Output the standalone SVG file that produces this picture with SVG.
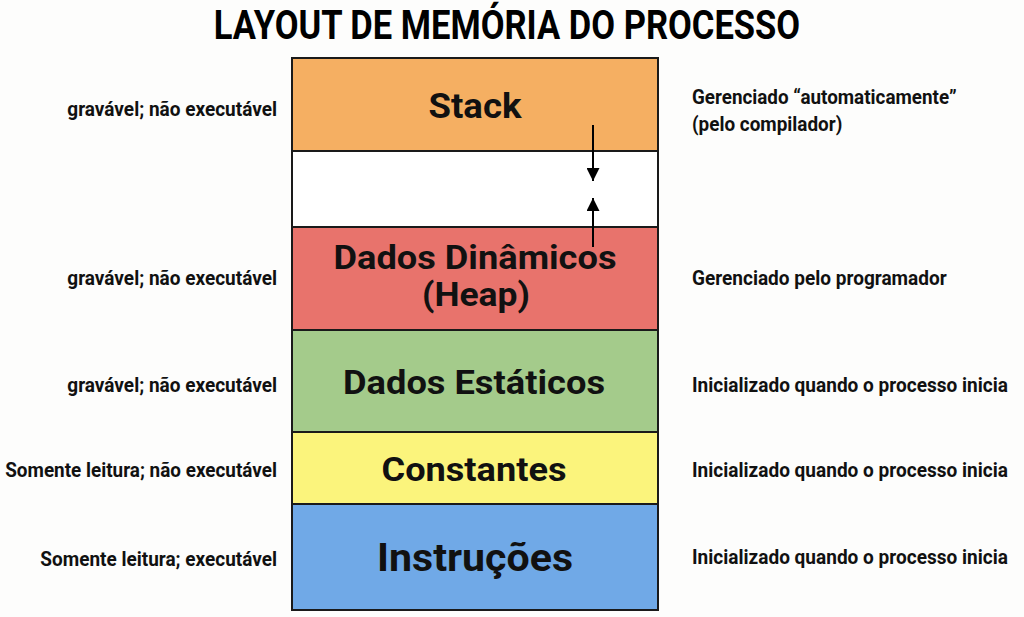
<svg xmlns="http://www.w3.org/2000/svg" width="1024" height="617" viewBox="0 0 1024 617">
<defs>
<style>
.seg{stroke:#1a1a1a;stroke-width:2}
.lbl{font-family:Roboto,"Liberation Sans",sans-serif;font-weight:700;fill:#111;text-anchor:middle}
.side{font-family:Roboto,"Liberation Sans",sans-serif;font-weight:700;fill:#111;font-size:21px}
.l{text-anchor:end}
.title{font-family:Roboto,"Liberation Sans",sans-serif;font-weight:700;fill:#000;font-size:41px;text-anchor:middle}
.arr{stroke:#000;stroke-width:2;fill:none}
</style>
<marker id="ah" viewBox="0 0 10 10" refX="10" refY="5" markerWidth="13" markerHeight="13" markerUnits="userSpaceOnUse" orient="auto">
<path d="M0,0 L10,5 L0,10 z" fill="#000"/>
</marker>
</defs>
<rect width="1024" height="617" fill="#fdfdfc"/>
<text class="title" transform="translate(507,39) scale(0.84,1)" x="0" y="0" textLength="698" lengthAdjust="spacingAndGlyphs">LAYOUT DE MEMÓRIA DO PROCESSO</text>

<g id="stack">
<rect class="seg" x="292" y="58" width="366" height="93" fill="#F5AF62"/>
<text class="lbl" x="475" y="118" font-size="35" textLength="93" lengthAdjust="spacingAndGlyphs">Stack</text>
</g>
<g id="free">
<rect class="seg" x="292" y="151" width="366" height="76" fill="#ffffff"/>
</g>
<g id="heap">
<rect class="seg" x="292" y="227" width="366" height="103" fill="#E8736C"/>
<text class="lbl" x="475" y="269" font-size="34" textLength="283" lengthAdjust="spacingAndGlyphs">Dados Dinâmicos</text>
<text class="lbl" x="476" y="306" font-size="34" textLength="108" lengthAdjust="spacingAndGlyphs">(Heap)</text>
</g>
<g id="static">
<rect class="seg" x="292" y="330" width="366" height="102" fill="#A4CB8B"/>
<text class="lbl" x="474" y="394" font-size="34" textLength="262" lengthAdjust="spacingAndGlyphs">Dados Estáticos</text>
</g>
<g id="const">
<rect class="seg" x="292" y="432" width="366" height="72" fill="#FBF47C"/>
<text class="lbl" x="474" y="481" font-size="34" textLength="185" lengthAdjust="spacingAndGlyphs">Constantes</text>
</g>
<g id="instr">
<rect class="seg" x="292" y="504" width="366" height="106" fill="#70A9E7"/>
<text class="lbl" x="475" y="571" font-size="38" textLength="196" lengthAdjust="spacingAndGlyphs">Instruções</text>
</g>

<g id="connectors">
<line class="arr" x1="593" y1="125" x2="593" y2="181" marker-end="url(#ah)"/>
<line class="arr" x1="593" y1="247" x2="593" y2="198" marker-end="url(#ah)"/>
</g>

<g id="left-labels">
<text class="side l" transform="translate(277,116) scale(0.9,1)" textLength="233" lengthAdjust="spacingAndGlyphs">gravável; não executável</text>
<text class="side l" transform="translate(277,285) scale(0.9,1)" textLength="233" lengthAdjust="spacingAndGlyphs">gravável; não executável</text>
<text class="side l" transform="translate(277,392) scale(0.9,1)" textLength="233" lengthAdjust="spacingAndGlyphs">gravável; não executável</text>
<text class="side l" transform="translate(277,477) scale(0.9,1)" textLength="302" lengthAdjust="spacingAndGlyphs">Somente leitura; não executável</text>
<text class="side l" transform="translate(277,566) scale(0.9,1)" textLength="263" lengthAdjust="spacingAndGlyphs">Somente leitura; executável</text>
</g>
<g id="right-labels">
<text class="side" transform="translate(692,104) scale(0.9,1)" textLength="294" lengthAdjust="spacingAndGlyphs">Gerenciado “automaticamente”</text>
<text class="side" transform="translate(692,131) scale(0.9,1)" textLength="167" lengthAdjust="spacingAndGlyphs">(pelo compilador)</text>
<text class="side" transform="translate(692,285) scale(0.9,1)" textLength="283" lengthAdjust="spacingAndGlyphs">Gerenciado pelo programador</text>
<text class="side" transform="translate(692,392) scale(0.9,1)" textLength="351" lengthAdjust="spacingAndGlyphs">Inicializado quando o processo inicia</text>
<text class="side" transform="translate(692,477) scale(0.9,1)" textLength="351" lengthAdjust="spacingAndGlyphs">Inicializado quando o processo inicia</text>
<text class="side" transform="translate(692,564) scale(0.9,1)" textLength="351" lengthAdjust="spacingAndGlyphs">Inicializado quando o processo inicia</text>
</g>
</svg>
